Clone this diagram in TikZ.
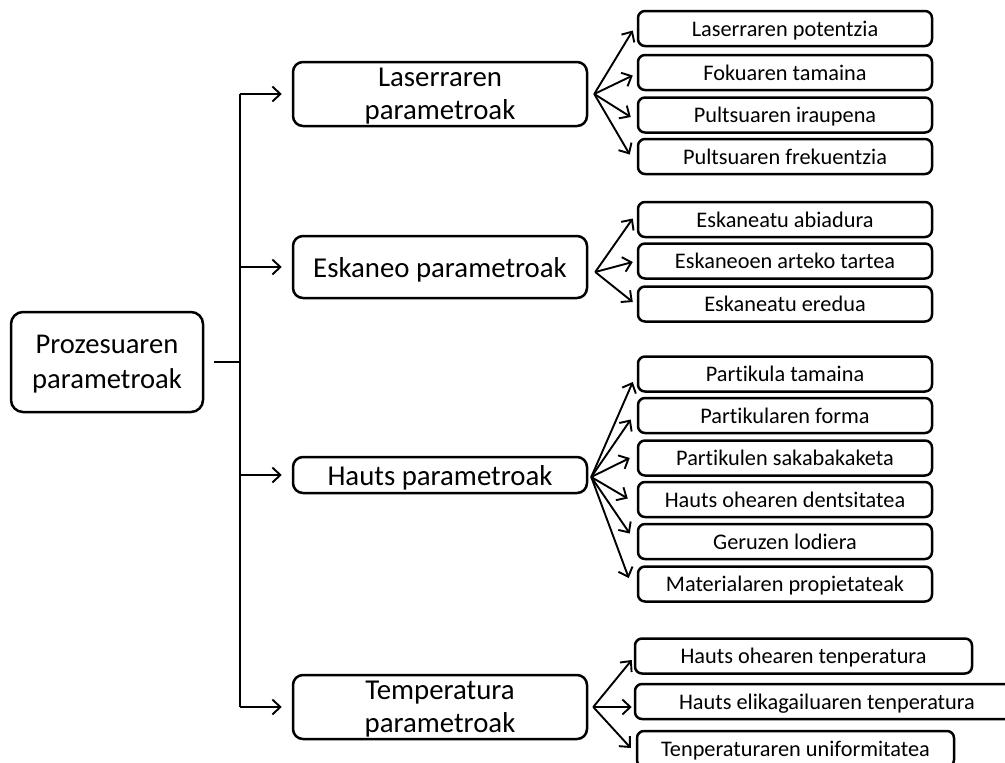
\documentclass[tikz,border=0pt]{standalone}
\usepackage{fontspec}
\setmainfont{Carlito}[Ligatures=CommonOff]
\usetikzlibrary{arrows.meta}
\tikzset{
  rootbox/.style={draw, line width=2.5pt, rounded corners=12pt, inner sep=0pt, align=center,
    text depth=0pt, font=\fontsize{28.6}{35}\selectfont},
  midbox/.style={draw, line width=2.5pt, rounded corners=10pt, inner sep=0pt, align=center,
    minimum width=294pt, text depth=0pt, font=\fontsize{28.8}{32.5}\selectfont},
  leafbox/.style={draw, line width=2.5pt, rounded corners=7pt, inner sep=0pt, align=center,
    minimum height=35pt, text height=15pt, text depth=0pt, font=\fontsize{22.3}{26}\selectfont},
  conn/.style={line width=1.9pt},
  arr/.style={line width=1.9pt, -{Straight Barb[length=8pt,width=15pt,line width=1.9pt]}},
}
\begin{document}
\begin{tikzpicture}[x=1pt,y=-1pt]
\path[use as bounding box, clip] (0,0) rectangle (1005,763);
% root
\node[rootbox, minimum width=192pt, minimum height=100pt] (root) at (107,362) {Prozesuaren\\parametroak};
\coordinate (trunk) at (240,362);
\coordinate (ttop) at (240,94);
\coordinate (tbot) at (240,707);
% level 1
\node[midbox, minimum height=64pt] (m1) at (440,94) {Laserraren\\parametroak};
\node[midbox, minimum height=62pt] (m2) at (440,267) {Eskaneo parametroak};
\node[midbox, minimum height=36pt] (m3) at (440,475) {Hauts parametroak};
\node[midbox, minimum height=64pt] (m4) at (440,707) {Temperatura\\parametroak};
% trunk
\draw[conn] (root.east) ++(10,0) -- (trunk);
\draw[conn] (ttop) -- (tbot);
\draw[arr] (ttop) -- ([xshift=-10pt]m1.west);
\draw[arr] (240,267) -- ([xshift=-10pt]m2.west);
\draw[arr] (240,475) -- ([xshift=-10pt]m3.west);
\draw[arr] (tbot) -- ([xshift=-10pt]m4.west);
% leaves group 1
\node[leafbox, minimum width=294pt] (a1) at (785,28.5) {Laserraren potentzia};
\node[leafbox, minimum width=294pt] (a2) at (785,72.5) {Fokuaren tamaina};
\node[leafbox, minimum width=294pt] (a3) at (785,115) {Pultsuaren iraupena};
\node[leafbox, minimum width=294pt] (a4) at (785,156.5) {Pultsuaren frekuentzia};
\coordinate (f1) at ([xshift=6pt]m1.east);
\draw[arr] (f1) -- ([xshift=-4pt,yshift=-2pt]a1.west);
\draw[arr] (f1) -- ([xshift=-4pt,yshift=-3pt]a2.west);
\draw[arr] (f1) -- ([xshift=-6pt,yshift=-2pt]a3.west);
\draw[arr] (f1) -- ([xshift=-7pt,yshift=2pt]a4.west);
% leaves group 2
\node[leafbox, minimum width=294pt] (b1) at (785,219.5) {Eskaneatu abiadura};
\node[leafbox, minimum width=294pt] (b2) at (785,261) {Eskaneoen arteko tartea};
\node[leafbox, minimum width=294pt] (b3) at (785,304) {Eskaneatu eredua};
\coordinate (f2) at ([xshift=7pt,yshift=-5pt]m2.east);
\draw[arr] (f2) -- ([xshift=-4pt,yshift=1pt]b1.west);
\draw[arr] (f2) -- ([xshift=-4pt,yshift=-1pt]b2.west);
\draw[arr] (f2) -- ([xshift=-4pt,yshift=2pt]b3.west);
% leaves group 3
\node[leafbox, minimum width=294pt] (c1) at (785,374) {Partikula tamaina};
\node[leafbox, minimum width=294pt] (c2) at (785,415.5) {Partikularen forma};
\node[leafbox, minimum width=294pt] (c3) at (785,458) {Partikulen sakabakaketa};
\node[leafbox, minimum width=294pt] (c4) at (785,499.5) {Hauts ohearen dentsitatea};
\node[leafbox, minimum width=294pt] (c5) at (785,541.5) {Geruzen lodiera};
\node[leafbox, minimum width=294pt] (c6) at (785,584) {Materialaren propietateak};
\coordinate (f3) at ([xshift=3pt,yshift=-2pt]m3.east);
\draw[arr] (f3) -- ([xshift=-4pt,yshift=-8pt]c1.west);
\draw[arr] (f3) -- ([xshift=-6pt,yshift=-4pt]c2.west);
\draw[arr] (f3) -- ([xshift=-7pt]c3.west);
\draw[arr] (f3) -- ([xshift=-9pt,yshift=1pt]c4.west);
\draw[arr] (f3) -- ([xshift=-7pt,yshift=8pt]c5.west);
\draw[arr] (f3) -- ([xshift=-8pt,yshift=6pt]c6.west);
% leaves group 4
\node[leafbox, minimum width=337pt] (d1) at (803.5,656) {Hauts ohearen tenperatura};
\node[leafbox, minimum width=384pt] (d2) at (827,701.5) {Hauts elikagailuaren tenperatura};
\node[leafbox, minimum width=317pt, minimum height=36pt] (d3) at (795.5,749) {Tenperaturaren uniformitatea};
\coordinate (f4) at ([xshift=5pt]m4.east);
\draw[arr] (f4) -- ([xshift=-2pt,yshift=-4pt]d1.west);
\draw[arr] (f4) -- ([xshift=-2pt,yshift=-5.5pt]d2.west);
\draw[arr] (f4) -- ([xshift=-5pt,yshift=1pt]d3.west);
\end{tikzpicture}
\end{document}
